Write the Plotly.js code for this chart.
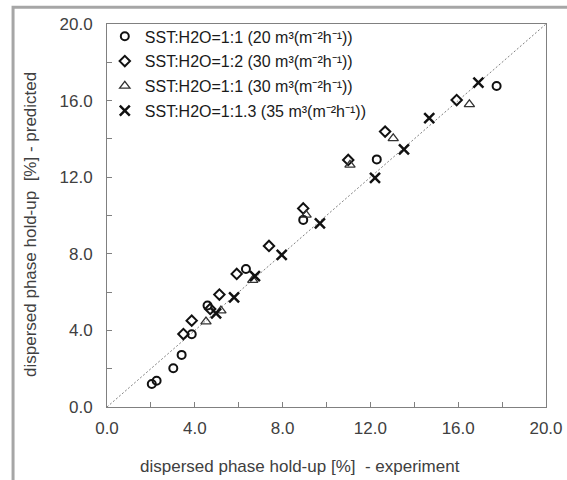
<!DOCTYPE html>
<html>
<head>
<meta charset="utf-8">
<script src="https://cdn.plot.ly/plotly-3.0.1.min.js"></script>
<style>html,body{margin:0;padding:0;background:#fff;}#chart{width:567px;height:480px;}</style>
</head>
<body>
<div id="chart"></div>
<script>
// Series 1: SST:H2O=1:1 (20)
const s1Name = "SST:H2O=1:1 (20 m³(m⁻²h⁻¹))";
const s1X = [2.04, 2.26, 3.02, 3.40, 3.86, 4.58, 6.33, 8.94, 12.29, 17.75];
const s1Y = [1.20, 1.37, 2.02, 2.72, 3.80, 5.30, 7.21, 9.77, 12.93, 16.76];
// Series 2: SST:H2O=1:2 (30)
const s2Name = "SST:H2O=1:2 (30 m³(m⁻²h⁻¹))";
const s2X = [3.48, 3.86, 4.70, 5.12, 5.91, 7.38, 8.94, 10.99, 12.67, 15.93];
const s2Y = [3.81, 4.51, 5.12, 5.87, 6.95, 8.41, 10.37, 12.90, 14.38, 16.03];
// Series 3: SST:H2O=1:1 (30)
const s3Name = "SST:H2O=1:1 (30 m³(m⁻²h⁻¹))";
const s3X = [4.51, 5.19, 6.64, 9.07, 11.07, 13.04, 16.51];
const s3Y = [4.46, 5.03, 6.63, 10.03, 12.64, 14.03, 15.80];
// Series 4: SST:H2O=1:1.3 (35)
const s4Name = "SST:H2O=1:1.3 (35 m³(m⁻²h⁻¹))";
const s4X = [4.97, 5.79, 6.74, 7.96, 9.70, 12.21, 13.53, 14.68, 16.92];
const s4Y = [4.89, 5.73, 6.84, 7.94, 9.59, 11.97, 13.45, 15.08, 16.94];
// Parity line
const lineX = [0, 20];
const lineY = [0, 20];
// Axis ticks
const tickVals = [0, 4, 8, 12, 16, 20];
const tickText = ["0.0", "4.0", "8.0", "12.0", "16.0", "20.0"];
const xTitle = "dispersed phase hold-up [%]  - experiment";
const yTitle = "dispersed phase hold-up  [%] - predicted";

const FONT = "Liberation Sans, Arial, sans-serif";

const traces = [
  {x: lineX, y: lineY, mode: "lines", showlegend: false, hoverinfo: "skip",
   line: {color: "#808080", width: 1, dash: "2px,2px"}},
  {x: s1X, y: s1Y, name: s1Name, mode: "markers", legendgroup: "a",
   marker: {symbol: "circle-open", size: 8, color: "#111", line: {width: 2, color: "#111"}}},
  {x: s2X, y: s2Y, name: s2Name, mode: "markers", legendgroup: "b",
   marker: {symbol: "diamond-open", size: 8, color: "#111", line: {width: 2, color: "#111"}}},
  {x: s3X, y: s3Y, name: s3Name, mode: "markers", legendgroup: "c",
   marker: {symbol: "triangle-up-open", size: 9, color: "#333", line: {width: 1.3, color: "#333"}}},
  {x: s4X, y: s4Y, name: s4Name, mode: "markers", legendgroup: "d",
   marker: {symbol: "x-thin-open", size: 10, color: "#111", line: {width: 2.5, color: "#111"}}}
];

const axisCommon = {
  range: [0, 20], autorange: false,
  tickmode: "array", tickvals: tickVals, ticktext: tickText,
  ticks: "inside", ticklen: 5, tickcolor: "#808080", tickwidth: 1,
  minor: {dtick: 2, tick0: 0, ticks: "inside", ticklen: 5, tickcolor: "#808080", showgrid: false},
  showline: true, linecolor: "#808080", linewidth: 1, mirror: true,
  showgrid: false, zeroline: false,
  tickfont: {family: FONT, size: 17, color: "#404040"},
  automargin: false
};

const layout = {
  width: 567, height: 480,
  margin: {l: 107, r: 21, t: 24, b: 73},
  paper_bgcolor: "#fff", plot_bgcolor: "#fff",
  font: {family: FONT, color: "#404040"},
  xaxis: Object.assign({}, axisCommon, {ticklabelstandoff: 6}),
  yaxis: Object.assign({}, axisCommon, {ticklabelstandoff: 10}),
  legend: {
    x: -0.005, y: 1.012, xanchor: "left", yanchor: "top",
    bgcolor: "rgba(0,0,0,0)", borderwidth: 0,
    font: {family: FONT, size: 16, color: "#1a1a1a"},
    tracegroupgap: 1, itemwidth: 30
  },
  annotations: [
    {text: xTitle, xref: "paper", yref: "paper", x: (300 - 107) / 439, y: -(467 - 407) / 383,
     xanchor: "center", yanchor: "middle", showarrow: false,
     font: {family: FONT, size: 17, color: "#404040"}},
    {text: yTitle, xref: "paper", yref: "paper", x: -(107 - 30) / 439, y: (407 - 225) / 383,
     xanchor: "center", yanchor: "middle", showarrow: false, textangle: -90,
     font: {family: FONT, size: 17, color: "#404040"}}
  ],
  shapes: [
    {type: "rect", xref: "paper", yref: "paper",
     x0: -0.214, x1: 1.2, y0: -0.4, y1: 1.044,
     line: {color: "#a6a6a6", width: 3}, fillcolor: "rgba(0,0,0,0)", layer: "below"}
  ]
};

Plotly.newPlot("chart", traces, layout, {displayModeBar: false, staticPlot: true});
</script>
</body>
</html>
